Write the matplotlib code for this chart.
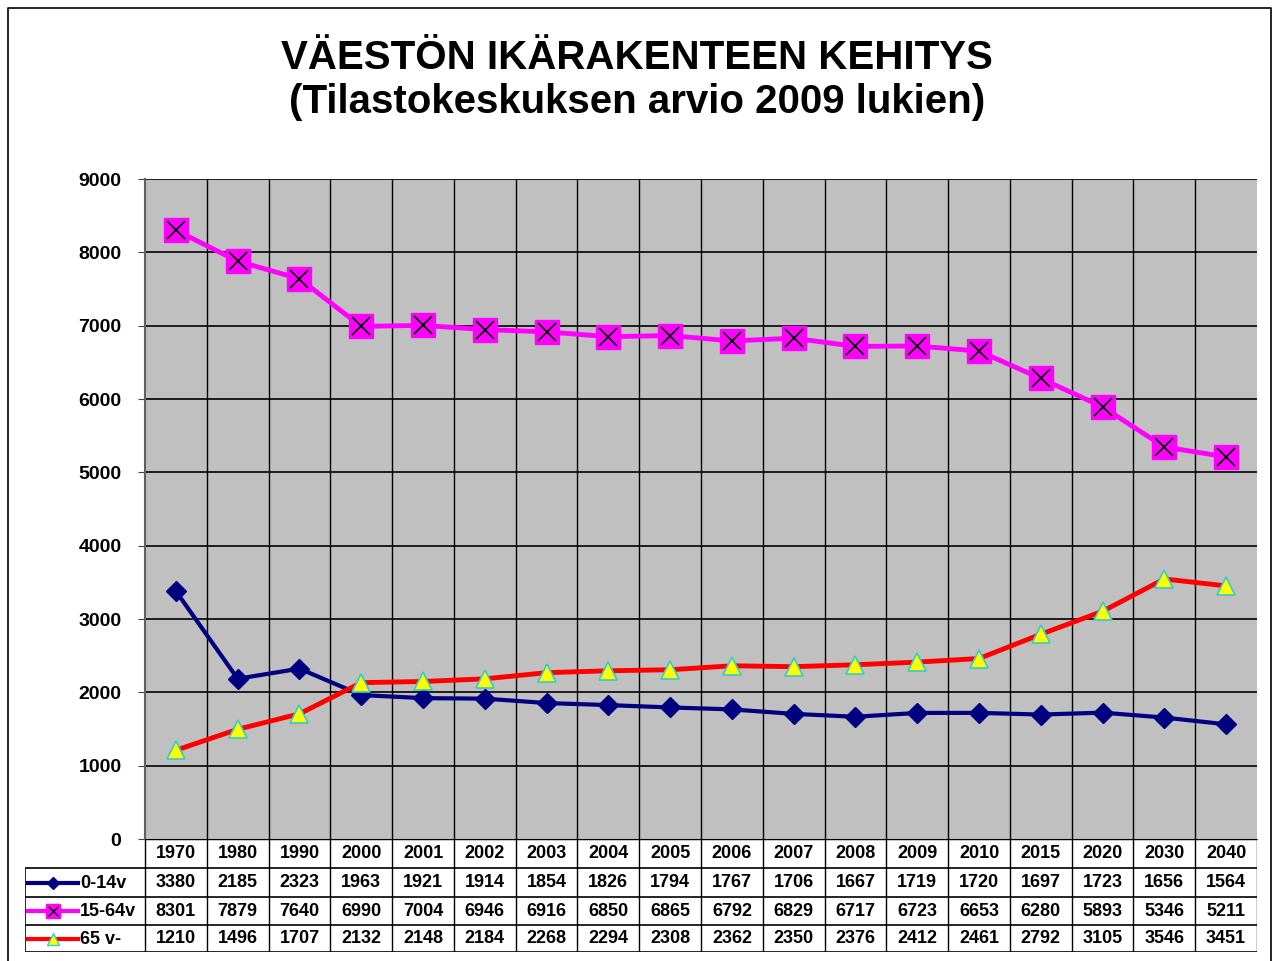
import matplotlib.pyplot as plt
import numpy as np

plt.rcParams['font.family'] = ['Liberation Sans', 'DejaVu Sans']
plt.rcParams['font.weight'] = 'bold'

# data
years = ['1970', '1980', '1990', '2000', '2001', '2002', '2003', '2004', '2005',
         '2006', '2007', '2008', '2009', '2010', '2015', '2020', '2030', '2040']
age_0_14 = [3380, 2185, 2323, 1963, 1921, 1914, 1854, 1826, 1794,
            1767, 1706, 1667, 1719, 1720, 1697, 1723, 1656, 1564]
age_15_64 = [8301, 7879, 7640, 6990, 7004, 6946, 6916, 6850, 6865,
             6792, 6829, 6717, 6723, 6653, 6280, 5893, 5346, 5211]
age_65 = [1210, 1496, 1707, 2132, 2148, 2184, 2268, 2294, 2308,
          2362, 2350, 2376, 2412, 2461, 2792, 3105, 3546, 3451]
labels = ['0-14v', '15-64v', '65 v-']

W, H = 1274, 961
fig = plt.figure(figsize=(W / 100, H / 100), dpi=100)

# outer frame
fig.add_artist(plt.Line2D([8 / W, 8 / W, 1271 / W, 1271 / W], [0, 1 - 8 / H, 1 - 8 / H, 0],
                          color='black', lw=1.2, transform=fig.transFigure))

fig.text(0.5, 1 - 58 / H, 'VÄESTÖN IKÄRAKENTEEN KEHITYS', ha='center', va='center',
         fontsize=29, fontweight='bold')
fig.text(0.5, 1 - 102 / H, '(Tilastokeskuksen arvio 2009 lukien)', ha='center', va='center',
         fontsize=29, fontweight='bold')

x0, x1, ytop, ybot = 145, 1257, 179, 839
ax = fig.add_axes([x0 / W, 1 - ybot / H, (x1 - x0) / W, (ybot - ytop) / H])
ax.set_facecolor('#C0C0C0')
n = len(years)
x = np.arange(n)
ax.set_xlim(-0.5, n - 0.5)
ax.set_ylim(0, 9000)
ax.set_yticks(np.arange(0, 9001, 1000))
ax.tick_params(axis='y', labelsize=14, length=5, color='#404040', pad=12)
ax.set_yticklabels([str(v) for v in range(0, 9001, 1000)], fontweight='bold')
ax.set_xticks([])
for v in np.arange(1000, 9001, 1000):
    ax.axhline(v, color='black', lw=1.2, zorder=1)
for b in np.arange(0.5, n - 0.5, 1):
    ax.axvline(b, color='black', lw=1.0, zorder=1)
for s in ['top', 'right']:
    ax.spines[s].set_visible(False)
ax.spines['left'].set_color('#606060')
ax.spines['left'].set_linewidth(1.5)
ax.spines['bottom'].set_color('#606060')

ax.plot(x, age_0_14, color='#000080', lw=3, marker='D', ms=10, mfc='#000080',
        mec='#000080', zorder=3)
ax.plot(x, age_15_64, color='#FF00FF', lw=3.5, marker='s', ms=17, mfc='#FF00FF',
        mec='#FF00FF', zorder=3)
ax.plot(x, age_15_64, ls='none', marker='x', ms=13, mew=1.3, color='black', zorder=4)
ax.plot(x, age_65, color='#FF0000', lw=3.5, marker='^', ms=13, mfc='#FFFF00',
        mec='#33CCCC', mew=1.2, zorder=3)

# data table
tx0, tbot = 25, 952
colw = (x1 - x0) / n
tab = fig.add_axes([tx0 / W, 1 - tbot / H, (x1 - tx0) / W, (tbot - ybot) / H])
tab.set_xlim(-0.5 - (x0 - tx0) / colw, n - 0.5)
tab.set_ylim(tbot - ybot, 0)
tab.axis('off')
rows = [0, 29, 58, 86, 113]
left = -0.5 - (x0 - tx0) / colw
tab.hlines(rows[0], -0.5, n - 0.5, color='black', lw=1)
for r in rows[1:]:
    tab.hlines(r, left, n - 0.5, color='black', lw=1.2)
tab.vlines(left, rows[1], rows[-1], color='black', lw=1.2)
for b in np.arange(-0.5, n, 1):
    tab.vlines(b, rows[0], rows[-1], color='black', lw=1)
for i, yr in enumerate(years):
    tab.text(i, 14.5, yr, ha='center', va='center', fontsize=13, fontweight='bold')

series = [age_0_14, age_15_64, age_65]
styles = [dict(color='#000080', lw=3, marker='D', ms=6, mfc='#000080', mec='#000080'),
          dict(color='#FF00FF', lw=3, marker='s', ms=10, mfc='#FF00FF', mec='#FF00FF'),
          dict(color='#FF0000', lw=3, marker='^', ms=8, mfc='#FFFF00', mec='#33CCCC')]
for k, (vals, lab, st) in enumerate(zip(series, labels, styles)):
    yc = (rows[k + 1] + rows[k + 2]) / 2
    for i, v in enumerate(vals):
        tab.text(i, yc, str(v), ha='center', va='center', fontsize=13, fontweight='bold')
    sx = [left + 0.05, left + 0.45, left + 0.86]
    tab.plot(sx, [yc, yc, yc], markevery=[1], **st)
    if k == 1:
        tab.plot([sx[1]], [yc], ls='none', marker='x', ms=7, color='black')
    tab.text(left + 0.89, yc + 1, lab, ha='left', va='center', fontsize=13, fontweight='bold')

fig.savefig('out.png', dpi=100)
